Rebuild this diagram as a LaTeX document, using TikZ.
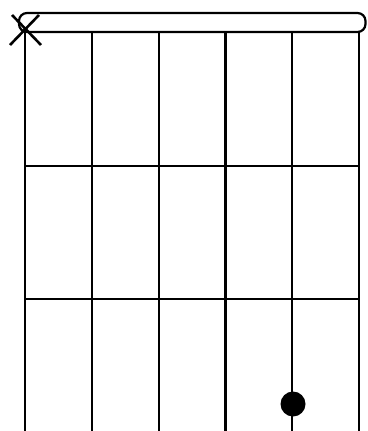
\documentclass[tikz,border=0pt]{standalone}
\usepackage{tikz}
\usetikzlibrary{calc}

\begin{document}
\begin{tikzpicture}[x=1pt, y=-1pt,
    stringline/.style={line width=2.2pt},
    fretline/.style={line width=2.2pt},
    mutedmark/.style={line width=2.6pt},
    fingerdot/.style={fill=black}]
  \useasboundingbox (0,0) rectangle (367,431);
  % strings
  \foreach \s in {0,...,5}
    \draw[stringline] ({25+66.8*\s},32) -- ({25+66.8*\s},431);
  % frets
  \foreach \f in {166,299}
    \draw[fretline] (25,\f) -- (359,\f);
  % nut
  \draw[fretline, rounded corners=8pt] (19,13) rectangle (365.5,32);
  % muted string
  \draw[mutedmark] (12,15) -- (41,45);
  \draw[mutedmark] (39,15) -- (10,45);
  % finger
  \fill[fingerdot] (293,404) circle (12.5);
\end{tikzpicture}
\end{document}
